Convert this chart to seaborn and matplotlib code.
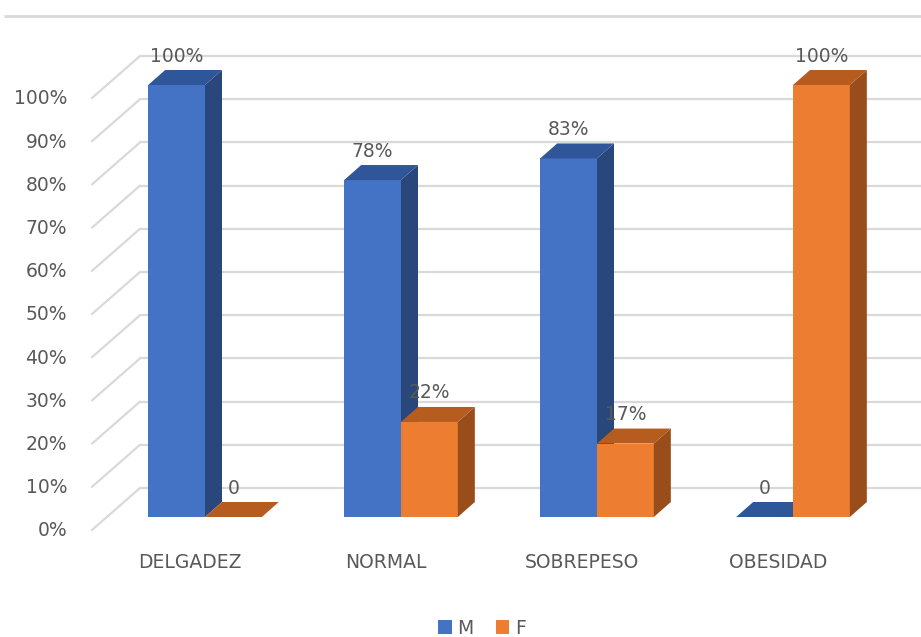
import numpy as np
import pandas as pd
import seaborn as sns
import matplotlib
matplotlib.use("Agg")
import matplotlib.pyplot as plt
from matplotlib.patches import Polygon, Patch
from matplotlib.lines import Line2D
from matplotlib.transforms import IdentityTransform

# Data
categories = ["DELGADEZ", "NORMAL", "SOBREPESO", "OBESIDAD"]
series = ["M", "F"]
m_values = [100, 78, 83, 0]
f_values = [0, 22, 17, 100]
y_ticks = list(range(0, 101, 10))

# Colours: front, top and side faces of each series
front_colors = {"M": "#4472C4", "F": "#ED7D31"}
top_colors = {"M": "#30569A", "F": "#B65C1F"}
side_colors = {"M": "#2A477B", "F": "#994D1B"}
grid_color = "#D9D9D9"
text_color = "#595959"

W, H = 921, 637
DEPTH = (17, 15)        # bar depth in pixels (right, up)
FRONT_WALL = (-15, -13)  # offset from bar front plane to the front edge of the floor
BACK_WALL = (33, 29)     # offset from bar front plane to the back wall

sns.set_theme(style="white")
plt.rcParams["font.family"] = ["DejaVu Sans"]

fig = plt.figure(figsize=(W / 100, H / 100), dpi=100)
ax = fig.add_axes([107 / W, (H - 517) / H, 784 / W, 432 / H])

df = pd.DataFrame({
    "categoria": categories * 2,
    "sexo": ["M"] * len(categories) + ["F"] * len(categories),
    "valor": m_values + f_values,
})
sns.barplot(data=df, x="categoria", y="valor", hue="sexo", hue_order=series,
            palette=front_colors, width=0.58, saturation=1, ax=ax,
            legend=False, linewidth=0)
ax.set_xlim(-0.5, len(categories) - 0.5)
ax.set_ylim(0, 100)
ax.set_axis_off()

ident = IdentityTransform()


def disp(x, y):
    return ax.transData.transform((x, y))


# Gridlines: back wall lines and left wall diagonals
x_left = ax.get_xlim()[0]
for v in y_ticks:
    px, py = disp(x_left, v)
    bx, by = px + BACK_WALL[0], py + BACK_WALL[1]
    fx, fy = px + FRONT_WALL[0], py + FRONT_WALL[1]
    fig.add_artist(Line2D([bx, W], [by, by], transform=ident, color=grid_color,
                          lw=1.6, zorder=0))
    fig.add_artist(Line2D([fx, bx], [fy, by], transform=ident, color=grid_color,
                          lw=1.6, zorder=0))
    ax.text(67, fy - 1, f"{v}%", transform=ident, ha="right", va="center",
            fontsize=13.5, color=text_color)

# Top separator line
fig.add_artist(Line2D([5, W], [H - 16, H - 16], transform=ident, color=grid_color,
                      lw=2, zorder=0))

# 3D faces and value labels
dx, dy = DEPTH
for si, (name, container) in enumerate(zip(series, ax.containers)):
    base_z = 3 + si
    for rect, val in zip(container.patches, container.datavalues):
        rect.set_zorder(base_z)
        x0 = rect.get_x()
        x1 = x0 + rect.get_width()
        bl = disp(x0, 0)
        br = disp(x1, 0)
        tl = disp(x0, val)
        tr = disp(x1, val)
        if val > 0:
            side = Polygon([br, tr, (tr[0] + dx, tr[1] + dy), (br[0] + dx, br[1] + dy)],
                           closed=True, transform=ident, facecolor=side_colors[name],
                           edgecolor="none", zorder=base_z + 0.1)
            ax.add_patch(side)
            side.set_clip_on(False)
        top = Polygon([tl, tr, (tr[0] + dx, tr[1] + dy), (tl[0] + dx, tl[1] + dy)],
                      closed=True, transform=ident, facecolor=top_colors[name],
                      edgecolor="none", zorder=base_z + 0.2)
        ax.add_patch(top)
        top.set_clip_on(False)
        label = "0" if val == 0 else f"{val:g}%"
        cx = (tl[0] + tr[0]) / 2
        ax.text(cx, tl[1] + 29, label, transform=ident, ha="center", va="center",
                fontsize=13.5, color=text_color, zorder=10)

# Category labels on the front edge of the floor
for i, cat in enumerate(categories):
    px, py = disp(i, 0)
    ax.text(px + FRONT_WALL[0], py - 46, cat, transform=ident, ha="center",
            va="center", fontsize=13.5, color=text_color)

handles = [Patch(facecolor=front_colors[s], edgecolor="none", label=s) for s in series]
fig.legend(handles=handles, loc="center", bbox_to_anchor=(482 / W, 1 - 628 / H),
           ncol=2, frameon=False, fontsize=13.5, handlelength=0.7, handleheight=0.7,
           handletextpad=0.3, columnspacing=1.2, labelcolor=text_color)

fig.savefig("out.png", dpi=100)
